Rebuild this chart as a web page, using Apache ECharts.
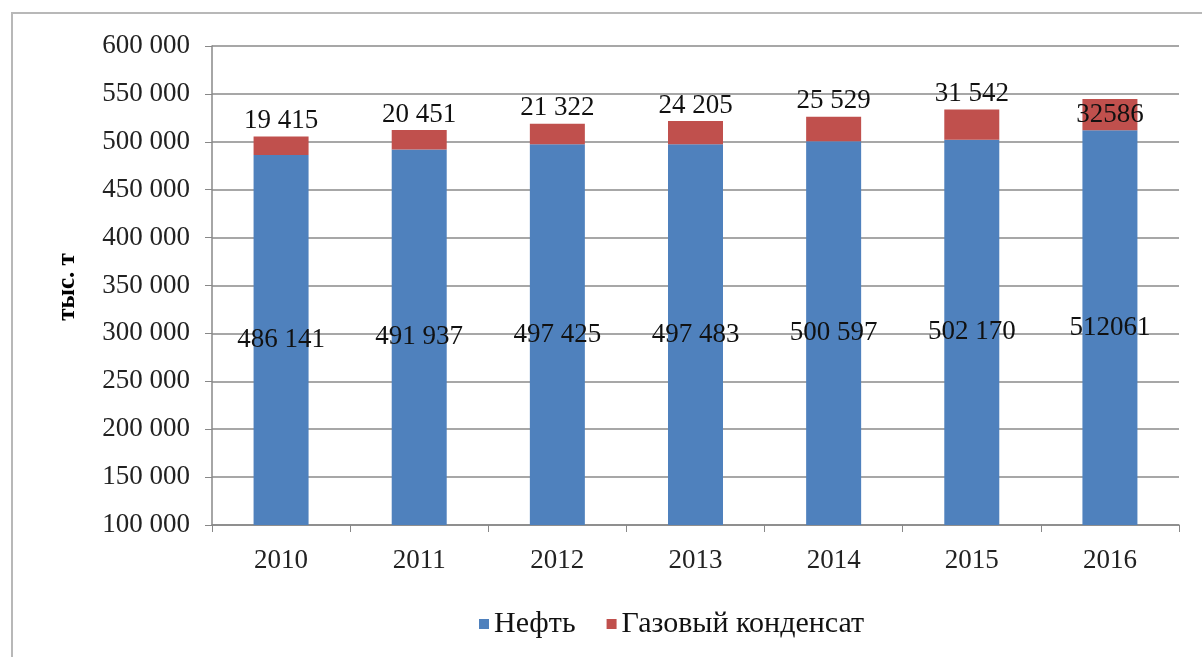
<!DOCTYPE html>
<html>
<head>
<meta charset="utf-8">
<script src="https://cdn.jsdelivr.net/npm/echarts@6/dist/echarts.min.js"></script>
<style>html,body{margin:0;padding:0;background:#fff;}#c{width:1202px;height:657px;}</style>
</head>
<body>
<div id="c"></div>
<script>
var categories = ['2010', '2011', '2012', '2013', '2014', '2015', '2016'];
var oil = [486141, 491937, 497425, 497483, 500597, 502170, 512061];
var condensate = [19415, 20451, 21322, 24205, 25529, 31542, 32586];
var seriesNames = ['Нефть', 'Газовый конденсат'];
var yMin = 100000, yMax = 600000, yStep = 50000;
var axisName = 'тыс. т';

var FONT = '"Liberation Serif", "DejaVu Serif", serif';
function spaced(v) { return String(v).replace(/\B(?=(\d{3})+(?!\d))/g, ' '); }
function lbl(p) { return p.dataIndex === categories.length - 1 ? String(p.value) : spaced(p.value); }

var chart = echarts.init(document.getElementById('c'), null, {renderer: 'canvas'});
chart.setOption({
  animation: false,
  backgroundColor: '#fff',
  textStyle: {fontFamily: FONT},
  graphic: [{
    type: 'rect', shape: {x: 12, y: 13, width: 1220, height: 680},
    style: {fill: 'none', stroke: '#b8b8b8', lineWidth: 2}, silent: true
  }, {
    type: 'text', x: 68, y: 287, rotation: Math.PI / 2,
    style: {text: axisName, font: 'bold 25px ' + FONT, fill: '#000', align: 'center', verticalAlign: 'middle'}
  }],
  grid: {left: 212, right: 23, top: 46, bottom: 132, containLabel: false},
  legend: {
    data: seriesNames, bottom: 13, left: 474, itemWidth: 10, itemHeight: 10, itemGap: 31,
    icon: 'rect',
    textStyle: {fontFamily: FONT, fontSize: 30, color: '#111'}
  },
  xAxis: {
    type: 'category', data: categories,
    axisLine: {lineStyle: {color: '#888', width: 1.5}},
    axisTick: {show: true, length: 7, lineStyle: {color: '#888'}},
    axisLabel: {fontFamily: FONT, fontSize: 27, color: '#222', margin: 22}
  },
  yAxis: {
    type: 'value', min: yMin, max: yMax, interval: yStep,
    axisLine: {show: true, lineStyle: {color: '#888', width: 1.5}},
    axisTick: {show: true, length: 7, lineStyle: {color: '#888'}},
    splitLine: {lineStyle: {color: '#8a8a8a', width: 1.5}},
    axisLabel: {fontFamily: FONT, fontSize: 27, color: '#222', margin: 22, formatter: function (v) { return spaced(v); }}
  },
  series: [{
    name: seriesNames[0], type: 'bar', stack: 's', data: oil, barWidth: 55,
    itemStyle: {color: '#4F81BD'},
    label: {show: true, position: 'inside', formatter: lbl, fontFamily: FONT, fontSize: 27, color: '#111'}
  }, {
    name: seriesNames[1], type: 'bar', stack: 's', barWidth: 55,
    data: condensate.map(function (v, i) {
      return i === categories.length - 1
        ? {value: v, label: {position: 'inside'}}
        : v;
    }),
    itemStyle: {color: '#C0504D'},
    label: {show: true, position: 'top', distance: 2, formatter: lbl, fontFamily: FONT, fontSize: 27, color: '#111'}
  }]
});
</script>
</body>
</html>
